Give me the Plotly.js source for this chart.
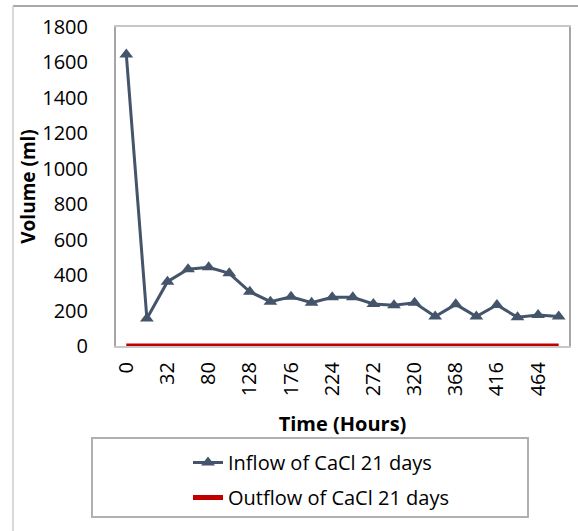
<!DOCTYPE html>
<html>
<head>
<meta charset="utf-8">
<script src="https://cdn.plot.ly/plotly-3.0.1.min.js"></script>
<style>html,body{margin:0;padding:0;background:#fff;}#chart{width:578px;height:531px;}</style>
</head>
<body>
<div id="chart"></div>
<script>
var timeHours = ["0","8","32","56","80","104","128","152","176","200","224","248","272","296","320","344","368","392","416","440","464","488"];
var inflow = [1645,155,363,433,444,410,306,250,278,244,275,275,237,230,244,166,235,166,231,162,175,166];
var outflow = [0,0,0,0,0,0,0,0,0,0,0,0,0,0,0,0,0,0,0,0,0,0];
var tickLabels = timeHours.filter(function(v,i){return i%2===0;});
var yTicks = [0,200,400,600,800,1000,1200,1400,1600,1800];

var FONT = "'Open Sans', Lato, sans-serif";
var L=116, R=569, T=27, B=346;
var W=578, H=531;
function px(x){return (x-L)/(R-L);}
function py(y){return (B-y)/(B-T);}

var data = [
 {x: timeHours, y: inflow, type:'scatter', mode:'lines+markers', name:'Inflow of CaCl 21 days',
  line:{color:'#44546a', width:3}, marker:{symbol:'triangle-up', size:12, color:'#44546a'},
  legendgroup:'a', cliponaxis:false},
 {x: timeHours, y: outflow, type:'scatter', mode:'lines', name:'Outflow of CaCl 21 days',
  line:{color:'#c00000', width:5}, legendgroup:'b', cliponaxis:false}
];

var layout = {
  width: W, height: H,
  margin:{l:L, r:W-R, t:T, b:H-B, pad:0},
  paper_bgcolor:'#fff', plot_bgcolor:'#fff',
  font:{family:FONT, size:20, color:'#000'},
  showlegend:true,
  legend:{x:px(188), y:py(443), xanchor:'left', yanchor:'top', orientation:'v',
    font:{family:FONT, size:20, color:'#000'}, bgcolor:'rgba(0,0,0,0)', borderwidth:0,
    tracegroupgap:6},
  xaxis:{type:'category', range:[-0.5, timeHours.length-0.5], autorange:false,
    tickmode:'array', tickvals:tickLabels, ticktext:tickLabels,
    tickangle:-90, ticks:'', showgrid:false, zeroline:false,
    showline:true, linecolor:'#c8c8c8', linewidth:2, mirror:true,
    tickfont:{family:FONT, size:20}, ticklabelstandoff:6,
    title:{text:'<b>Time (Hours)</b>', font:{family:FONT, size:20}, standoff:22}},
  yaxis:{range:[0,1800], autorange:false, tickmode:'array', tickvals:yTicks, ticks:'', showgrid:false, zeroline:false,
    showline:true, linecolor:'#a6a6a6', linewidth:2, mirror:true,
    tickfont:{family:FONT, size:20}, ticklabelstandoff:22,
    title:{text:'<b>Volume (ml)</b>', font:{family:FONT, size:19}, standoff:2}},
  shapes:[
    {type:'rect', xref:'paper', yref:'paper', x0:px(92), x1:px(528), y0:py(517), y1:py(438),
     line:{color:'#b0b0b0', width:2}, fillcolor:'rgba(0,0,0,0)'},
    {type:'line', xref:'paper', yref:'paper', x0:px(13), x1:px(578), y0:py(6), y1:py(6),
     line:{color:'#8c8c8c', width:1.5}},
    {type:'line', xref:'paper', yref:'paper', x0:px(13), x1:px(13), y0:py(6), y1:py(531),
     line:{color:'#cccccc', width:1.5}}
  ]
};

Plotly.newPlot('chart', data, layout, {staticPlot:true, displayModeBar:false});
</script>
</body>
</html>
